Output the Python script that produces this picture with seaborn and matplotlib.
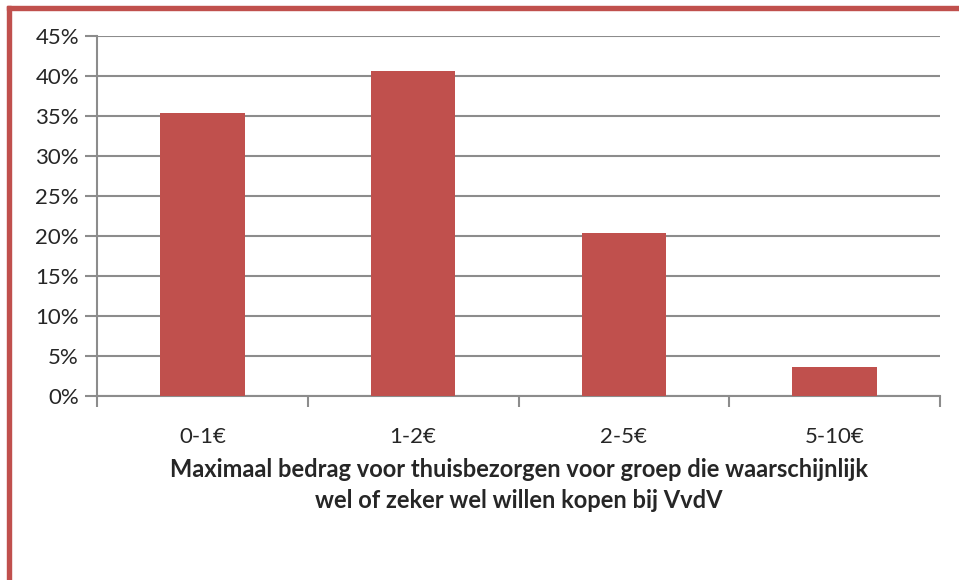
import matplotlib
matplotlib.use("Agg")
import matplotlib.pyplot as plt
import seaborn as sns
import pandas as pd
from matplotlib.patches import Rectangle
from matplotlib.ticker import PercentFormatter

# data
categories = ["0-1€", "1-2€", "2-5€", "5-10€"]
shares = [35.4, 40.6, 20.4, 3.6]
xlabel = "Maximaal bedrag voor thuisbezorgen voor groep die waarschijnlijk\nwel of zeker wel willen kopen bij VvdV"

df = pd.DataFrame({"bedrag": categories, "aandeel": shares})

sns.set_style("white")
plt.rcParams["font.family"] = ["Lato", "DejaVu Sans"]

bar_color = "#C0504D"
grid_color = "#8C8C8C"

fig = plt.figure(figsize=(9.59, 5.8), dpi=100)
ax = fig.add_axes([97 / 959, 1 - 396 / 580, (940 - 97) / 959, (396 - 36) / 580])

sns.barplot(data=df, x="bedrag", y="aandeel", color=bar_color, width=0.4,
            saturation=1, linewidth=0, ax=ax, zorder=3)

ax.set_ylim(0, 45)
ax.set_xlim(-0.5, 3.5)
ax.set_yticks(range(0, 50, 5))
ax.yaxis.set_major_formatter(PercentFormatter(decimals=0))
ax.grid(axis="y", color=grid_color, linewidth=1.5, zorder=0)
ax.set_axisbelow(True)

for side in ["top", "right"]:
    ax.spines[side].set_visible(False)
for side in ["left", "bottom"]:
    ax.spines[side].set_color(grid_color)
    ax.spines[side].set_linewidth(1.5)

# x ticks sit on category boundaries, labels in the middle
ax.set_xticks([-0.5, 0.5, 1.5, 2.5, 3.5])
ax.set_xticklabels([])
ax.set_xticks(range(len(categories)), minor=True)
ax.set_xticklabels(categories, minor=True)
ax.tick_params(axis="x", which="major", bottom=True, length=8, width=1.5,
               color=grid_color, direction="out")
ax.tick_params(axis="x", which="minor", bottom=True, length=0, pad=22, labelsize=16)
ax.tick_params(axis="y", left=True, length=9, width=1.5, color=grid_color,
               direction="out", labelsize=16, pad=4)

ax.set_ylabel("")
ax.set_xlabel(xlabel, fontsize=17, fontweight="bold", labelpad=8, linespacing=1.45)

# red frame (left and top edges of the chart box)
fig.patches.append(Rectangle((7 / 959, 0), 4 / 959, 1 - 6 / 580,
                             transform=fig.transFigure, color=bar_color, zorder=10))
fig.patches.append(Rectangle((7 / 959, 1 - 10 / 580), 1 - 7 / 959, 4 / 580,
                             transform=fig.transFigure, color=bar_color, zorder=10))

fig.savefig("out.png", dpi=100)
